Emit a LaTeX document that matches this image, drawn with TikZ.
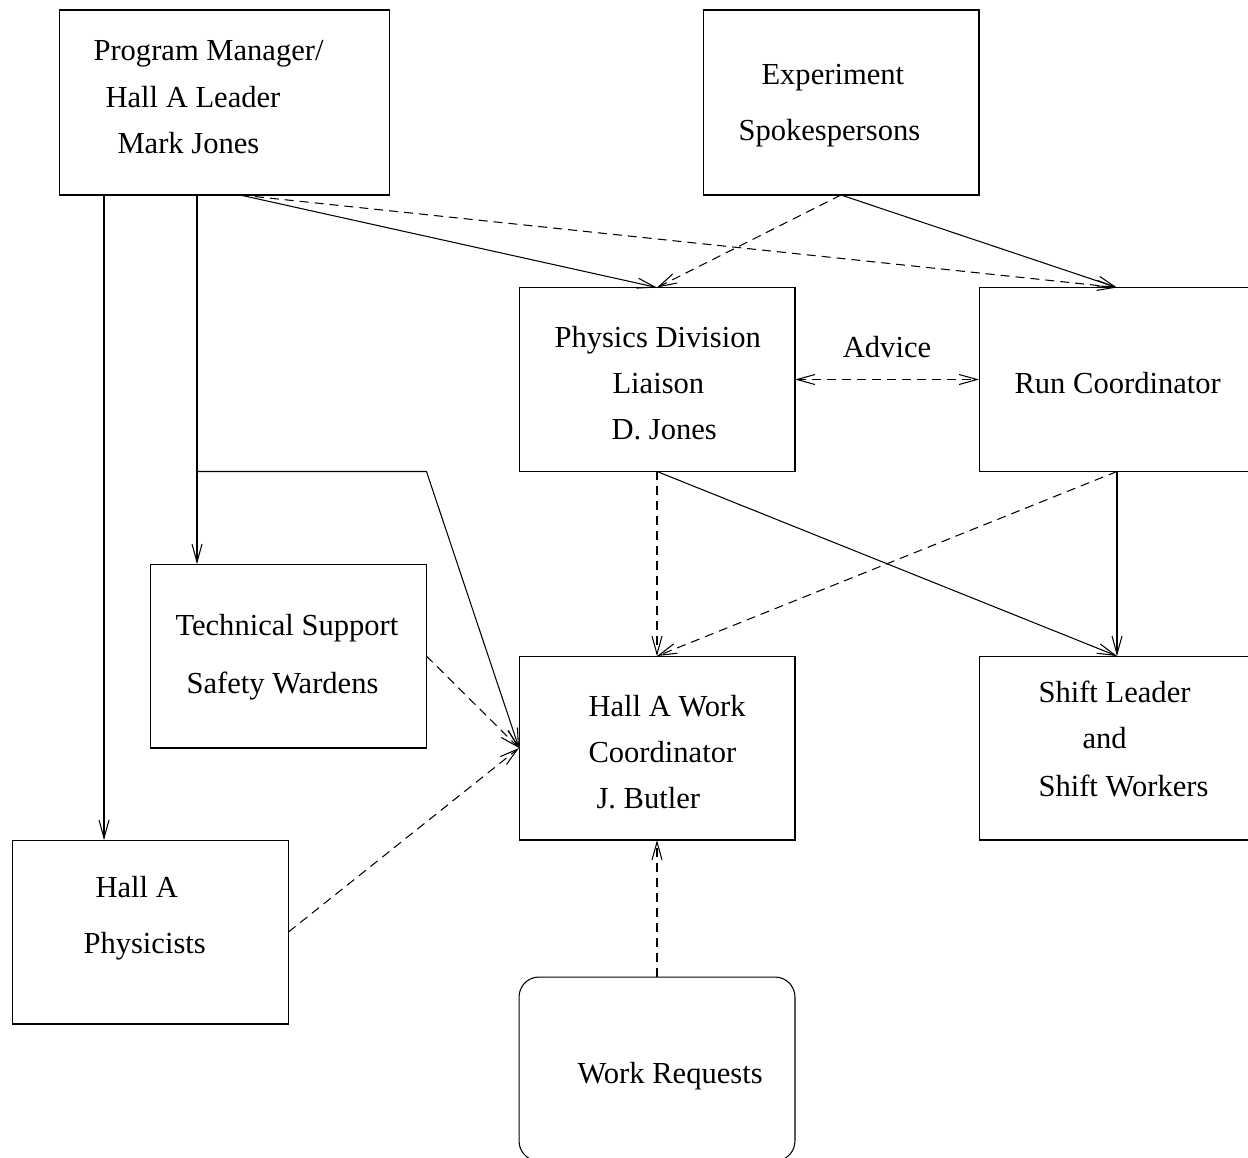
\documentclass[tikz,border=0pt]{standalone}
\usepackage{fontspec}
\setmainfont{Liberation Serif}
\usetikzlibrary{arrows.meta, calc}

\begin{document}
\begin{tikzpicture}[x=0.02cm, y=-0.02cm, line width=0.6pt,
    box/.style={draw, inner sep=0pt, outer sep=0pt, minimum width=5.52cm, minimum height=3.68cm},
    txt/.style={inner sep=0pt, anchor=base west, font=\fontsize{17.4}{20}\selectfont},
    dsh/.style={dash pattern=on 0.18cm off 0.12cm},
    >={Straight Barb[length=0.36cm, width=0.2cm]}]
      \useasboundingbox (0,0) rectangle (1248,1157);
      % boxes
      \node[box, minimum width=6.62cm, minimum height=3.7cm] (pm) at (224.5,102.5) {};
      \node[box, minimum height=3.7cm] (exp) at (841,102.5) {};
      \node[box] (pdl) at (657,379.5) {};
      \node[box] (rc) at (1117,379.5) {};
      \node[box] (ts) at (288.5,656) {};
      \node[box] (haw) at (657,748) {};
      \node[box] (sl) at (1117,748) {};
      \node[box] (hap) at (150.5,932) {};
      \node[box, rounded corners=0.4cm] (wr) at (657,1069) {};
      % texts
      \node[txt] (pm1) at (93,60) {Program Manager/};
      \node[txt] (pm2) at (105,107) {Hall A Leader};
      \node[txt] (pm3) at (117,153) {Mark Jones};
      \node[txt] (exp1) at (761,84) {Experiment};
      \node[txt] (exp2) at (738,140) {Spokespersons};
      \node[txt] (pdl1) at (554,347) {Physics Division};
      \node[txt] (pdl2) at (612,393) {Liaison};
      \node[txt] (pdl3) at (611,439) {D. Jones};
      \node[txt] (rc1) at (1014,393) {Run Coordinator};
      \node[txt] (ts1) at (175,635) {Technical Support};
      \node[txt] (ts2) at (186,693) {Safety Wardens};
      \node[txt] (haw1) at (588,716) {Hall A Work};
      \node[txt] (haw2) at (588,762) {Coordinator};
      \node[txt] (haw3) at (596,808) {J. Butler};
      \node[txt] (sl1) at (1038,702) {Shift Leader};
      \node[txt] (sl2) at (1082,748) {and};
      \node[txt] (sl3) at (1038,796) {Shift Workers};
      \node[txt] (hap1) at (95,897) {Hall A};
      \node[txt] (hap2) at (83,953) {Physicists};
      \node[txt] (wr1) at (577,1083) {Work Requests};
      % connectors
      \coordinate (pmA) at ([xshift=0.9cm]pm.south west);
      \coordinate (pmB) at ([xshift=2.76cm]pm.south west);
      \coordinate (pmC) at ([xshift=3.62cm]pm.south west);
      \draw[->] (pmA) -- (pmA |- hap.north);
      \draw[->] (pmB) -- (pmB |- ts.north);
      \draw[->] (pmB |- pdl.south) -- (ts.east |- pdl.south) -- (haw.west);
      \draw[->] (pmC) -- (pdl.north);
      \draw[->, dsh] (pmC) -- (rc.north);
      \draw[->, dsh] (exp.south) -- (pdl.north);
      \draw[->] (exp.south) -- (rc.north);
      \draw[<->, dsh] (pdl.east) -- node[midway, above=0.42cm, inner sep=0pt, font=\fontsize{17.4}{20}\selectfont] (adv) {Advice} (rc.west);
      \draw[->, dsh] (pdl.south) -- (haw.north);
      \draw[->] (pdl.south) -- (sl.north);
      \draw[->] (rc.south) -- (sl.north);
      \draw[->, dsh] (rc.south) -- (haw.north);
      \draw[->, dsh] (ts.east) -- (haw.west);
      \draw[->, dsh] (hap.east) -- (haw.west);
      \draw[->, dsh] (wr.north) -- (haw.south);
    \end{tikzpicture}
\end{document}
